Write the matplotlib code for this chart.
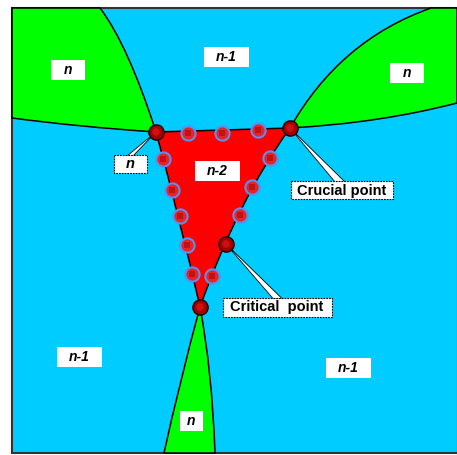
import matplotlib
matplotlib.use('Agg')
import matplotlib.pyplot as plt
from matplotlib.path import Path
from matplotlib.patches import PathPatch, Rectangle, Polygon

# --- data (pixel coordinates) ---
FRAME = (12, 8, 458, 453)

# region outlines: list of (command, points)
left_green = [('M', (12, 8)), ('L', (100, 8)), ('Q', (128, 45), (156, 132)),
              ('Q', (80, 127), (12, 118))]
right_green = [('M', (290, 128)), ('Q', (340, 40), (431, 8)), ('L', (457, 8)),
               ('L', (457, 103)), ('Q', (380, 123), (290, 128))]
bottom_green = [('M', (200, 307)), ('Q', (180, 380), (164, 453)), ('L', (215, 453)),
                ('Q', (212, 370), (200, 307))]
red_tri = [('M', (156, 132)), ('L', (290, 128)), ('Q', (238, 200), (200, 307)),
           ('Q', (180, 220), (156, 132))]

region_labels = ['n', 'n-1', 'n', 'n-2', 'n-1', 'n', 'n-1']
region_xy = [(68, 70), (226, 57), (407, 73), (217, 171), (79, 357), (191, 421), (348, 368)]
region_box = [(34, 20), (45, 20), (34, 20), (45, 20), (45, 20), (23, 20), (45, 20)]

special_xy = [(156, 132), (290, 128), (226, 244), (200, 307)]
ring_xy = [(188, 133), (222, 133), (258, 130),
           (163, 159), (172, 190), (180, 216), (187, 245), (192, 274),
           (270, 158), (252, 187), (240, 215), (212, 276)]

callout_text = ['n', 'Crucial point', 'Critical  point']
callout_style = ['italic', 'normal', 'normal']
callout_xy = [(130, 164), (342, 190), (277, 307)]
callout_box = [(33, 18), (102, 18), (109, 19)]
callout_tip = [(156, 132), (290, 128), (226, 244)]
callout_base = [(127, 133), (335, 345), (273, 282)]

CYAN = '#00CCFF'
GREEN = '#00FF00'
RED = '#FF0000'


def make_path(segs):
    verts, codes = [], []
    for s in segs:
        if s[0] == 'M':
            verts.append(s[1]); codes.append(Path.MOVETO)
        elif s[0] == 'L':
            verts.append(s[1]); codes.append(Path.LINETO)
        else:
            verts += [s[1], s[2]]; codes += [Path.CURVE3, Path.CURVE3]
    verts.append(segs[0][1]); codes.append(Path.CLOSEPOLY)
    return Path(verts, codes)


fig = plt.figure(figsize=(4.57, 4.55), dpi=100)
ax = fig.add_axes([0, 0, 1, 1])
ax.set_xlim(0, 457)
ax.set_ylim(455, 0)
ax.axis('off')

x0, y0, x1, y1 = FRAME
ax.add_patch(Rectangle((x0, y0), x1 - x0, y1 - y0, facecolor=CYAN,
                       edgecolor='#333333', lw=1.5, zorder=1))

for segs, col in [(left_green, GREEN), (right_green, GREEN),
                  (bottom_green, GREEN), (red_tri, RED)]:
    ax.add_patch(PathPatch(make_path(segs), facecolor=col, edgecolor='black',
                           lw=1.1, zorder=2))

# region labels in white boxes
for lab, (x, y), (w, h) in zip(region_labels, region_xy, region_box):
    ax.add_patch(Rectangle((x - w / 2, y - h / 2), w, h, facecolor='white',
                           edgecolor='none', zorder=3))
    ax.text(x, y, lab, ha='center', va='center', fontsize=10, fontweight='bold',
            fontstyle='italic', family='Liberation Sans', zorder=4)

# callouts
for txt, sty, (x, y), (w, h), tip, base in zip(callout_text, callout_style, callout_xy,
                                               callout_box, callout_tip, callout_base):
    top = y - h / 2
    ax.add_patch(Polygon([tip, (base[0], top + 1), (base[1], top + 1)], closed=True,
                         facecolor='white', edgecolor='black', lw=0.6, zorder=6))
    ax.add_patch(Rectangle((x - w / 2, top), w, h, facecolor='white',
                           edgecolor='black', lw=0.8, linestyle=(0, (1.5, 1)), zorder=7))
    ax.text(x, y + 0.5, txt, ha='center', va='center', fontsize=10.5, fontweight='bold',
            fontstyle=sty, family='Liberation Sans', zorder=8)

# blue-ringed markers
rx = [p[0] for p in ring_xy]
ry = [p[1] for p in ring_xy]
ax.scatter(rx, ry, s=105, c='#E52525', edgecolors='#5a8ef0', linewidths=1.5, zorder=5)
ax.scatter(rx, ry, s=20, c='#C41010', marker='s', edgecolors='none', zorder=5)

# special points
sx = [p[0] for p in special_xy]
sy = [p[1] for p in special_xy]
ax.scatter(sx, sy, s=120, c='#A00000', edgecolors='#200000', linewidths=1.0, zorder=9)
ax.scatter(sx, sy, s=30, c='#D01010', edgecolors='none', zorder=9)

fig.savefig('out.png', dpi=100)
